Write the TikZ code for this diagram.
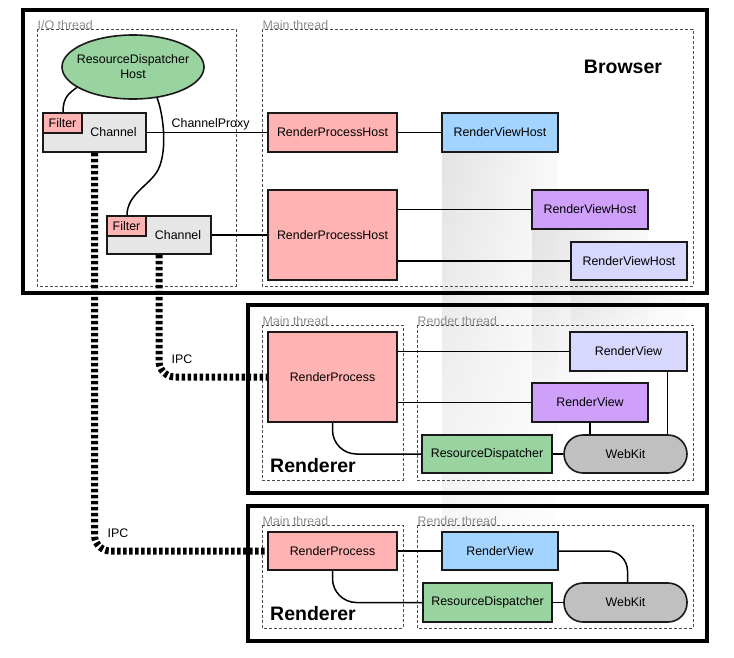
\documentclass[tikz,border=0pt]{standalone}
\usepackage{fontspec}
\setmainfont{Liberation Sans}
\usetikzlibrary{fadings,shapes.geometric}
\definecolor{cpink}{HTML}{FFB3B3}
\definecolor{cgreen}{HTML}{99D3A0}
\definecolor{cblue}{HTML}{A3D4FF}
\definecolor{cpurple}{HTML}{CFA0F9}
\definecolor{clav}{HTML}{D8D8FF}
\definecolor{cchan}{HTML}{E6E6E6}
\definecolor{cwk}{HTML}{C0C0C0}
\definecolor{cthread}{HTML}{8C8C8C}
\newcommand\fs{\fontsize{12.4}{15}\selectfont}
\tikzfading[name=fadedown, top color=transparent!0, bottom color=transparent!70]
\begin{document}
\begin{tikzpicture}[x=1pt,y=-1pt,
  box/.style={draw=black!90, line width=1.6pt, inner sep=0pt, font=\fs, rectangle},
  frame/.style={draw=black!70, dash pattern=on 3pt off 2pt, line width=1pt},
  outerbox/.style={draw=black, line width=3.5pt},
  conn/.style={line width=1.5pt},
  ipc/.style={line width=7pt, dash pattern=on 3.5pt off 2.5pt, rounded corners=16pt},
  tlabel/.style={text=cthread, font=\fs, inner sep=0pt, anchor=base west},
  big/.style={font=\bfseries\fontsize{19.5}{22}\selectfont, inner sep=0pt},
  col/.style={left color=black!11, right color=black!2, path fading=fadedown}
]
\useasboundingbox (0,0) rectangle (734,657);

% correspondence shadings
\shade[col] (442,152) rectangle (558,531);
\shade[col] (532,229) rectangle (648,383);
\shade[col] (571,280) rectangle (687,332);

% Browser
\draw[outerbox] (23,10) rectangle (707,293);
\draw[frame] (37,29) rectangle (236,286);
\draw[frame] (262,29) rectangle (693,286);
\node[tlabel] (lio) at (37.5,29) {I/O thread};
\node[tlabel] (lbm) at (262.5,29) {Main thread};
\node[big] (browser) at (623,67) {Browser};

% Renderer 1
\draw[outerbox] (248,305) rectangle (707,493);
\draw[frame] (262,325) rectangle (403,480);
\draw[frame] (417,325) rectangle (693,480);
\node[tlabel] (lr1m) at (262.5,325) {Main thread};
\node[tlabel] (lr1r) at (417.5,325) {Render thread};
\node[big, anchor=west] (ren1) at (270,466) {Renderer};

% Renderer 2
\draw[outerbox] (248,506) rectangle (707,641);
\draw[frame] (262,525) rectangle (403,628);
\draw[frame] (417,525) rectangle (693,628);
\node[tlabel] (lr2m) at (262.5,525) {Main thread};
\node[tlabel] (lr2r) at (417.5,525) {Render thread};
\node[big, anchor=west] (ren2) at (270,614) {Renderer};

% Browser nodes
\node[ellipse, draw=black!90, line width=1.6pt, fill=cgreen, minimum width=142pt, minimum height=64pt,
      inner sep=-12pt, align=center, font=\fs] (rdh) at (133,67) {ResourceDispatcher\\Host};
\node[box, fill=cchan, minimum width=103pt, minimum height=39pt] (ch1) at (94.5,132.5) {\hspace*{38pt}Channel};
\node[box, fill=cpink, minimum width=39pt, minimum height=20pt, anchor=north west] (f1) at (ch1.north west) {Filter};
\node[box, fill=cchan, minimum width=104pt, minimum height=38pt] (ch2) at (159,235) {\hspace*{38pt}Channel};
\node[box, fill=cpink, minimum width=39pt, minimum height=20pt, anchor=north west] (f2) at (ch2.north west) {Filter};
\node[box, fill=cpink, minimum width=129pt, minimum height=39pt] (rph1) at (332.5,132.5) {RenderProcessHost};
\node[box, fill=cpink, minimum width=129pt, minimum height=90pt] (rph2) at (332.5,235) {RenderProcessHost};
\node[box, fill=cblue, minimum width=116pt, minimum height=39pt] (rvh1) at (500,132.5) {RenderViewHost};
\node[box, fill=cpurple, minimum width=116pt, minimum height=39pt] (rvh2) at (590,209.5) {RenderViewHost};
\node[box, fill=clav, minimum width=116pt, minimum height=38pt] (rvh3) at (629,261) {RenderViewHost};

% Renderer 1 nodes
\node[box, fill=cpink, minimum width=129pt, minimum height=90pt] (rp1) at (332.5,377) {RenderProcess};
\node[box, fill=clav, minimum width=117pt, minimum height=39pt] (rv1a) at (628.5,351.5) {RenderView};
\node[box, fill=cpurple, minimum width=116pt, minimum height=39pt] (rv1b) at (590,402.5) {RenderView};
\node[box, fill=cgreen, minimum width=130pt, minimum height=38pt] (rd1) at (487,454) {ResourceDispatcher};
\node[box, fill=cwk, rounded corners=19pt, minimum width=123pt, minimum height=38pt] (wk1) at (625.5,454) {WebKit};

% Renderer 2 nodes
\node[box, fill=cpink, minimum width=129pt, minimum height=38pt] (rp2) at (332.5,551) {RenderProcess};
\node[box, fill=cblue, minimum width=116pt, minimum height=38pt] (rv2) at (500,551) {RenderView};
\node[box, fill=cgreen, minimum width=129pt, minimum height=39pt] (rd2) at (487.5,602.5) {ResourceDispatcher};
\node[box, fill=cwk, rounded corners=19pt, minimum width=123pt, minimum height=39pt] (wk2) at (625.5,602.5) {WebKit};

% Browser connectors
\draw[conn] (ch1.east) -- node[above, inner sep=1.5pt, font=\fs, pos=0.53] (cp) {ChannelProxy} (rph1.west);
\draw[conn] (rph1.east) -- (rvh1.west);
\draw[conn] (ch2.east) -- (rph2.west);
\draw[conn] (rvh2.west -| rph2.east) -- (rvh2.west);
\draw[conn] (rvh3.west -| rph2.east) -- (rvh3.west);
\draw[conn] ([xshift=-31.5pt]ch1.north) .. controls +(0,-15) and +(-8,6) .. (rdh.200);
\draw[conn] (rdh.-52) .. controls +(6,16) and +(10,-20) .. (158,170) coordinate (mid)
            .. controls +(-8,15) and +(0,-21) .. ([xshift=-32pt]ch2.north);

% Renderer 1 connectors
\draw[conn] (rv1a.west -| rp1.east) -- (rv1a.west);
\draw[conn] (rv1b.west -| rp1.east) -- (rv1b.west);
\draw[conn] (rv1b.south) -- (rv1b.south |- wk1.north);
\draw[conn] ([xshift=39pt]rv1a.south) -- ([xshift=39pt]rv1a.south |- wk1.north);
\draw[conn] (rd1.east) -- (wk1.west);
\draw[conn, rounded corners=24pt] (rp1.south) |- (rd1.west);

% Renderer 2 connectors
\draw[conn] (rp2.east) -- (rv2.west);
\draw[conn, rounded corners=20pt] (rv2.east) -| ([xshift=2pt]wk2.north);
\draw[conn] (rd2.east) -- (wk2.west);
\draw[conn, rounded corners=24pt] (rp2.south) |- (rd2.west);

% IPC
\draw[ipc] (ch2.south) |- (rp1.west);
\draw[ipc] (ch1.south) |- (rp2.west);
\node[font=\fs, inner sep=0pt] (ipc1) at (182,359) {IPC};
\node[font=\fs, inner sep=0pt] (ipc2) at (118,533) {IPC};
\end{tikzpicture}
\end{document}
